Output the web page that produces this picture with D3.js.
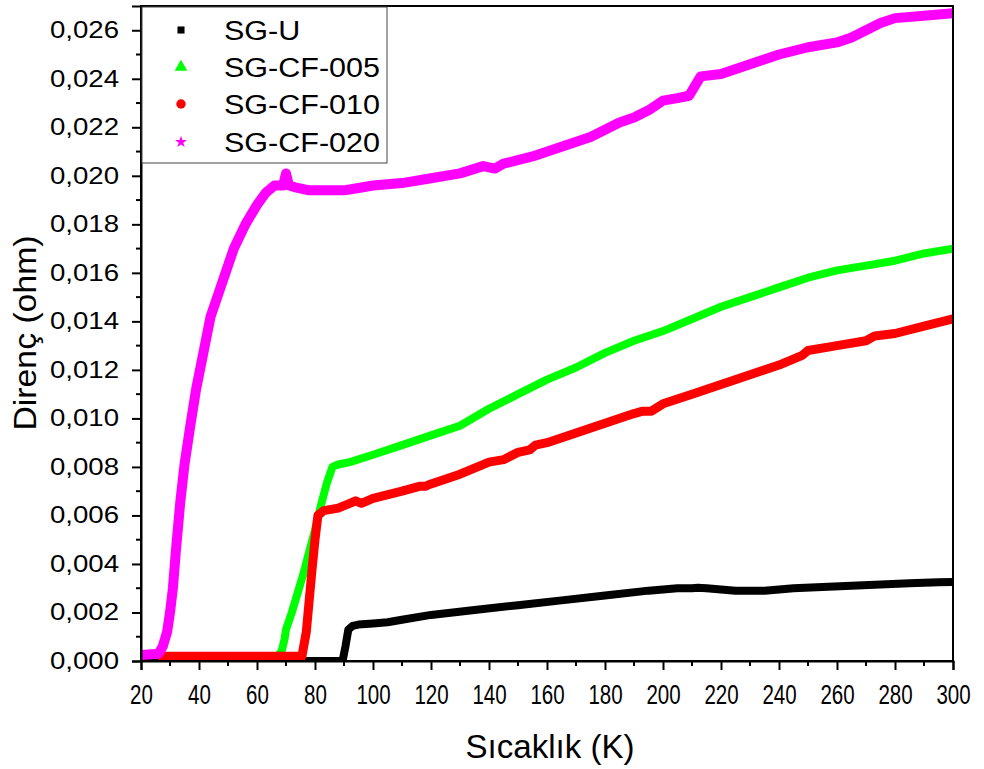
<!DOCTYPE html>
<html><head><meta charset="utf-8">
<script src="https://cdn.jsdelivr.net/npm/d3@7"></script>
<style>
body{margin:0;background:#fff;}
text{font-family:"Liberation Sans",Arial,sans-serif;}
</style></head><body>
<svg id="c" width="984" height="769"></svg>
<script>
const seriesNames = ["SG-U","SG-CF-005","SG-CF-010","SG-CF-020"];
const seriesColors = ["#000000","#00ff00","#ff0000","#ff00ff"];

const sgU_T = [20,40,60,75,89.5,90.5,91.5,93,95,100,105,110,120,135,150,165,180,195,205,210,212,215,225,235,245,255,265,275,285,295,300];
const sgU_R = [0,0,0,0,0,0.0006,0.0013,0.00145,0.0015,0.00155,0.0016,0.0017,0.0019,0.0021,0.0023,0.0025,0.0027,0.0029,0.0030,0.0030,0.00302,0.0030,0.0029,0.0029,0.0030,0.00305,0.0031,0.00315,0.0032,0.00325,0.00326];

const cf005_T = [27,40,55,67,68.5,69.5,70,72,74,76,78,80,82,84,86,88,92,100,110,120,130,140,150,160,170,180,190,200,210,220,230,240,250,260,270,280,290,300];
const cf005_R = [0.0002,0.0002,0.0002,0.0002,0.0004,0.0009,0.0013,0.0020,0.0028,0.0036,0.0045,0.0054,0.0064,0.0073,0.0080,0.0081,0.0082,0.0085,0.0089,0.0093,0.0097,0.0104,0.0110,0.0116,0.0121,0.0127,0.0132,0.0136,0.0141,0.0146,0.0150,0.0154,0.0158,0.0161,0.0163,0.0165,0.0168,0.0170];

const cf010_T = [27,40,55,70,75.5,77,78,79,80,81,83,88,92,94,96,100,110,116,118,120,130,140,145,150,154,156,160,170,180,190,193,196,200,210,220,230,240,248,250,260,270,273,280,290,300];
const cf010_R = [0.0002,0.0002,0.0002,0.0002,0.0002,0.0012,0.0025,0.0038,0.0050,0.0060,0.0062,0.0063,0.0065,0.0066,0.0065,0.0067,0.0070,0.0072,0.0072,0.0073,0.0077,0.0082,0.0083,0.0086,0.0087,0.0089,0.0090,0.0094,0.0098,0.0102,0.0103,0.0103,0.0106,0.0110,0.0114,0.0118,0.0122,0.0126,0.0128,0.0130,0.0132,0.0134,0.0135,0.0138,0.0141];

const cf020_T = [20,24,26,27.5,29,30,31,32,33.5,35,37,39,41,44,48,52,56,60,63,66,69,70,71,74,78,84,90,95,100,110,120,130,138,142,145,155,165,175,180,185,190,195,200,205,209,211,213,220,230,240,250,260,265,270,275,280,290,300];
const cf020_R = [0.00025,0.00028,0.0003,0.0006,0.0012,0.0020,0.0030,0.0045,0.0065,0.0081,0.0097,0.0112,0.0124,0.0142,0.0156,0.0170,0.0180,0.0188,0.0193,0.0196,0.0196,0.0201,0.0196,0.0195,0.0194,0.0194,0.0194,0.0195,0.0196,0.0197,0.0199,0.0201,0.0204,0.0203,0.0205,0.0208,0.0212,0.0216,0.0219,0.0222,0.0224,0.0227,0.0231,0.0232,0.0233,0.0237,0.0241,0.0242,0.0246,0.0250,0.0253,0.0255,0.0257,0.0260,0.0263,0.0265,0.0266,0.0267];

const xTicks = [20,40,60,80,100,120,140,160,180,200,220,240,260,280,300];
const yTicks = [0,0.002,0.004,0.006,0.008,0.010,0.012,0.014,0.016,0.018,0.020,0.022,0.024,0.026];
const xTitle = "Sıcaklık (K)";
const yTitle = "Direnç (ohm)";

const seriesT = [sgU_T, cf005_T, cf010_T, cf020_T];
const seriesR = [sgU_R, cf005_R, cf010_R, cf020_R];

function stretch(sel, f){
  sel.each(function(){
    const w = this.getComputedTextLength();
    d3.select(this).attr("textLength", w*f).attr("lengthAdjust","spacingAndGlyphs");
  });
}

const svg = d3.select("#c");
const L = 141, R = 953, T = 6, B = 661;
const x = d3.scaleLinear().domain([20,300]).range([L,R]);
const y = d3.scaleLinear().domain([0,0.027]).range([B,T]);

svg.append("clipPath").attr("id","clp").append("rect")
  .attr("x",L).attr("y",T).attr("width",R-L).attr("height",B-T);

const line = d3.line().x(d=>x(d[0])).y(d=>y(d[1])).curve(d3.curveLinear);
const widths = [8,8,9,10];
const g = svg.append("g").attr("clip-path","url(#clp)");
[0,1,2,3].forEach(i=>{
  const pts = seriesT[i].map((t,j)=>[t,seriesR[i][j]]);
  g.append("path").datum(pts).attr("d",line).attr("fill","none")
   .attr("stroke",seriesColors[i]).attr("stroke-width",widths[i])
   .attr("stroke-linejoin","round").attr("stroke-linecap","round");
});

// frame
svg.append("rect").attr("x",L).attr("y",T).attr("width",R-L).attr("height",B-T)
  .attr("fill","none").attr("stroke","#000").attr("stroke-width",2);

// x axis
const xAxis = d3.axisBottom(x).tickValues(xTicks).tickSize(9).tickFormat(d3.format("d"));
const gx = svg.append("g").attr("transform",`translate(0,${B})`).call(xAxis);
gx.select(".domain").attr("stroke-width",2);
gx.selectAll(".tick line").attr("stroke-width",2);
gx.selectAll(".tick text").attr("font-size",27).attr("y",24).attr("dy","0.71em").attr("fill","#000")
  .attr("font-family","Liberation Sans, Arial, sans-serif");
stretch(gx.selectAll(".tick text"), 0.76);
const xMinor = d3.range(30,300,20);
gx.selectAll(".mx").data(xMinor).enter().append("line").attr("x1",d=>x(d)).attr("x2",d=>x(d))
  .attr("y1",0).attr("y2",5).attr("stroke","#000").attr("stroke-width",2);

// y axis
const fmt = d=>d3.format(".3f")(d).replace(".",",");
const yAxis = d3.axisLeft(y).tickValues(yTicks).tickSize(9).tickFormat(fmt);
const gy = svg.append("g").attr("transform",`translate(${L},0)`).call(yAxis);
gy.select(".domain").attr("stroke-width",2);
gy.selectAll(".tick line").attr("stroke-width",2);
gy.selectAll(".tick text").attr("font-size",23).attr("x",-22).attr("fill","#000")
  .attr("font-family","Liberation Sans, Arial, sans-serif");
stretch(gy.selectAll(".tick text"), 1.2);
const yMinor = d3.range(0.001,0.027,0.002);
gy.selectAll(".my").data(yMinor).enter().append("line").attr("y1",d=>y(d)).attr("y2",d=>y(d))
  .attr("x1",0).attr("x2",-5).attr("stroke","#000").attr("stroke-width",2);

// titles
const xt = svg.append("text").attr("x",(L+R)/2+3).attr("y",758).attr("text-anchor","middle")
  .attr("font-size",33).text(xTitle);
xt.attr("textLength",169).attr("lengthAdjust","spacingAndGlyphs");
const yt = svg.append("text").attr("transform","translate(36,333) rotate(-90)")
  .attr("text-anchor","middle").attr("font-size",32).text(yTitle);
yt.attr("textLength",195).attr("lengthAdjust","spacingAndGlyphs");

// legend
const lg = svg.append("g");
lg.append("rect").attr("x",142).attr("y",7).attr("width",245).attr("height",156)
  .attr("fill","#fff").attr("stroke","#444").attr("stroke-width",1);
const rowY = [30,67,104,142];
const symbols = [d3.symbolSquare,d3.symbolTriangle,d3.symbolCircle,d3.symbolStar];
const symSize = [50,70,70,45];
seriesNames.forEach((n,i)=>{
  lg.append("path").attr("d",d3.symbol().type(symbols[i]).size(symSize[i]))
    .attr("transform",`translate(181,${rowY[i]})`).attr("fill",seriesColors[i]);
  lg.append("text").attr("x",224).attr("y",rowY[i]).attr("dy","0.36em").attr("font-size",27).text(n);
});
stretch(lg.selectAll("text"), 1.13);
</script></body></html>
